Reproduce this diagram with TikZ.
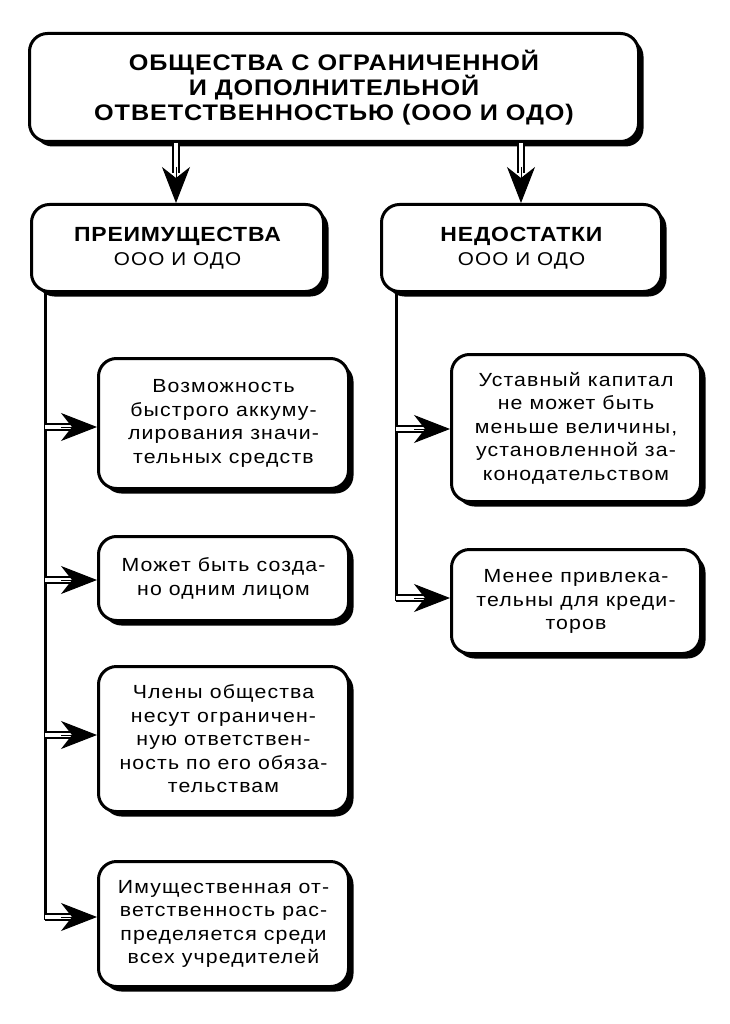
\documentclass[tikz,border=0pt]{standalone}
\usepackage{fontspec}
\setmainfont{Liberation Sans}[FakeStretch=1.12, LetterSpace=6]
\newfontfamily\hdfont{Liberation Sans}[FakeStretch=1.12, LetterSpace=4]
\usetikzlibrary{arrows.meta,shadows,calc}
\tikzset{
  box/.style={draw, line width=3pt, rounded corners=18pt, fill=white, align=center, inner sep=0pt,
    drop shadow={shadow xshift=5pt, shadow yshift=-5pt, fill=black, opacity=1}},
  body/.style={font=\fontsize{19}{23.5}\selectfont},
  title/.style={font=\fontsize{22.5}{25}\selectfont\hdfont\bfseries},
  sub/.style={font=\fontsize{18.5}{24}\selectfont},
  dline/.style={line width=2pt, double distance=3.5pt, double=white},
  head/.style={-{Stealth[length=36pt,width=28pt,inset=11pt]}, line width=1pt},
  vline/.style={line width=3pt},
}
\begin{document}
\begin{tikzpicture}[x=1pt,y=1pt]
\useasboundingbox (0,0) rectangle (729,-1024);

\node[box, title, minimum width=609, minimum height=108] (top) at (334,-87.5)
  {ОБЩЕСТВА С ОГРАНИЧЕННОЙ\\И ДОПОЛНИТЕЛЬНОЙ\\ОТВЕТСТВЕННОСТЬЮ (ООО И ОДО)};

\node[box, sub, minimum width=292, minimum height=87] (pre) at (177.5,-248)
  {{\fontsize{20.5}{24}\selectfont\hdfont\bfseries ПРЕИМУЩЕСТВА}\\ООО И ОДО};
\node[box, sub, minimum width=280, minimum height=87] (ned) at (521.5,-248)
  {{\fontsize{20.5}{24}\selectfont\hdfont\bfseries НЕДОСТАТКИ}\\ООО И ОДО};

\node[box, body, minimum width=250, minimum height=130] (l1) at (223.5,-423.5)
  {Возможность\\быстрого аккуму-\\лирования значи-\\тельных средств};
\node[box, body, minimum width=250, minimum height=84] (l2) at (223.5,-578.5)
  {Может быть созда-\\но одним лицом};
\node[box, body, minimum width=250, minimum height=145] (l3) at (223.5,-739)
  {Члены общества\\несут ограничен-\\ную ответствен-\\ность по его обяза-\\тельствам};
\node[box, body, minimum width=250, minimum height=125] (l4) at (223.5,-924)
  {Имущественная от-\\ветственность рас-\\пределяется среди\\всех учредителей};

\node[box, body, minimum width=249, minimum height=147] (r1) at (576,-428)
  {Уставный капитал\\не может быть\\меньше величины,\\установленной за-\\конодательством};
\node[box, body, minimum width=249, minimum height=104] (r2) at (576,-601.5)
  {Менее привлека-\\тельны для креди-\\торов};

% top arrows
\coordinate (tl) at (176,0);
\coordinate (tr) at (521,0);
\draw[dline] (top.south -| tl) -- ++(0,-30);
\draw[head] ($(pre.north -| tl)+(0,36)$) -- (pre.north -| tl);
\draw[dline] (top.south -| tr) -- ++(0,-30);
\draw[head] ($(ned.north -| tr)+(0,36)$) -- (ned.north -| tr);

% left branch
\coordinate (a1) at (45,-427);
\coordinate (a2) at (45,-580);
\coordinate (a3) at (45,-735);
\coordinate (a4) at (45,-917);
\draw[vline] (pre.south -| a1) -- ($(a4)+(0,-2.5)$);
\foreach \a/\b in {a1/l1,a2/l2,a3/l3,a4/l4}{
  \draw[dline] (\a) -- ($(\b.west |- \a)+(-22,0)$);
  \draw[head] ($(\b.west |- \a)+(-36,0)$) -- (\b.west |- \a);
}

% right branch
\coordinate (b1) at (396,-429);
\coordinate (b2) at (396,-598);
\draw[vline] (ned.south -| b1) -- ($(b2)+(0,-2.5)$);
\foreach \a/\b in {b1/r1,b2/r2}{
  \draw[dline] (\a) -- ($(\b.west |- \a)+(-22,0)$);
  \draw[head] ($(\b.west |- \a)+(-36,0)$) -- (\b.west |- \a);
}
\end{tikzpicture}
\end{document}
